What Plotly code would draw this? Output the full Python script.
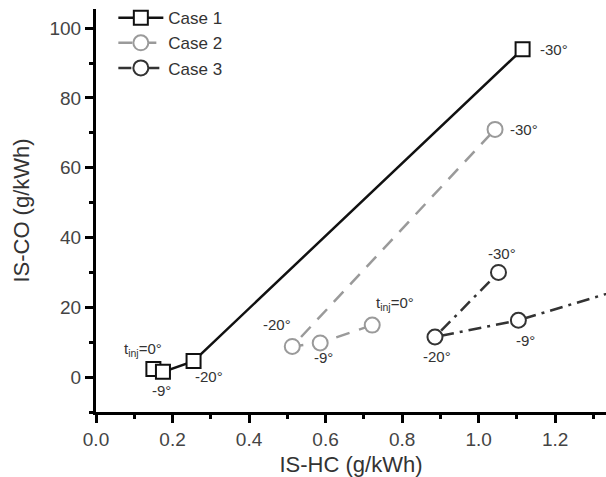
import plotly.graph_objects as go

# Data (IS-HC, IS-CO) ordered by injection timing: 0, -9, -20, -30 deg
case1_hc = [0.150, 0.175, 0.255, 1.115]
case1_co = [2.3, 1.5, 4.6, 94.0]
case2_hc = [0.722, 0.586, 0.513, 1.043]
case2_co = [14.9, 9.8, 8.8, 71.0]
case3_hc = [1.50, 1.104, 0.886, 1.052]
case3_co = [29.3, 16.3, 11.5, 30.0]

names = ["Case 1", "Case 2", "Case 3"]

fig = go.Figure()

fig.add_trace(go.Scatter(
    x=case1_hc, y=case1_co, name=names[0], mode="lines+markers",
    line=dict(color="#111111", width=2.5),
    marker=dict(symbol="square", size=14, color="white",
                line=dict(color="#111111", width=2)),
))
fig.add_trace(go.Scatter(
    x=case2_hc, y=case2_co, name=names[1], mode="lines+markers",
    line=dict(color="#9a9a9a", width=2.5, dash="14px,10px"),
    marker=dict(symbol="circle", size=15, color="white",
                line=dict(color="#9a9a9a", width=2)),
))
fig.add_trace(go.Scatter(
    x=case3_hc, y=case3_co, name=names[2], mode="lines+markers",
    line=dict(color="#333333", width=2.5, dash="13px,6px,3px,6px"),
    marker=dict(symbol="circle", size=15, color="white",
                line=dict(color="#333333", width=2)),
))

ann_font = dict(family="Liberation Sans, Arial", size=15, color="#333333")
labels = [
    # (x, y, text, xshift, yshift, xanchor)
    (case1_hc[3], case1_co[3], "-30°", 15, 0, "left"),
    (case1_hc[0], case1_co[0], "t<sub>inj</sub>=0°", -10, 20, "center"),
    (case1_hc[1], case1_co[1], "-9°", -1, -19, "center"),
    (case1_hc[2], case1_co[2], "-20°", 15, -15, "center"),
    (case2_hc[3], case2_co[3], "-30°", 13, 0, "left"),
    (case2_hc[2], case2_co[2], "-20°", -15, 22, "center"),
    (case2_hc[1], case2_co[1], "-9°", 3, -15, "center"),
    (case2_hc[0], case2_co[0], "t<sub>inj</sub>=0°", 23, 22, "center"),
    (case3_hc[3], case3_co[3], "-30°", 4, 19, "center"),
    (case3_hc[2], case3_co[2], "-20°", 2, -20, "center"),
    (case3_hc[1], case3_co[1], "-9°", 7, -20, "center"),
]
for x, y, t, xs, ys, xa in labels:
    fig.add_annotation(x=x, y=y, text=t, showarrow=False, xshift=xs, yshift=ys,
                       xanchor=xa, yanchor="middle", font=ann_font)

axis_common = dict(
    showline=True, linecolor="black", linewidth=3, mirror=False,
    ticks="outside", ticklen=8, tickwidth=2.5, tickcolor="black",
    showgrid=False, zeroline=False,
    tickfont=dict(family="Liberation Sans, Arial", size=19, color="#444444"),
    title_font=dict(family="Liberation Sans, Arial", size=22, color="#333333"),
)

fig.update_layout(
    width=606, height=477,
    margin=dict(l=96, r=0, t=0, b=63),
    plot_bgcolor="white", paper_bgcolor="white",
    xaxis=dict(range=[0, 1.333], dtick=0.2, tickformat=".1f",
               minor=dict(dtick=0.1, ticks="outside", ticklen=4, tickwidth=2.5, tickcolor="black"),
               title=dict(text="IS-HC (g/kWh)", standoff=12), **axis_common),
    yaxis=dict(range=[-10, 105.5], dtick=20,
               minor=dict(dtick=10, ticks="outside", ticklen=4, tickwidth=2.5, tickcolor="black"),
               title=dict(text="IS-CO (g/kWh)", standoff=14), **axis_common),
    legend=dict(x=0.034, y=1.022, xanchor="left", yanchor="top",
                bgcolor="rgba(0,0,0,0)", itemwidth=45, tracegroupgap=0,
                font=dict(family="Liberation Sans, Arial", size=17, color="#333333")),
)

fig.write_html("out.html")
